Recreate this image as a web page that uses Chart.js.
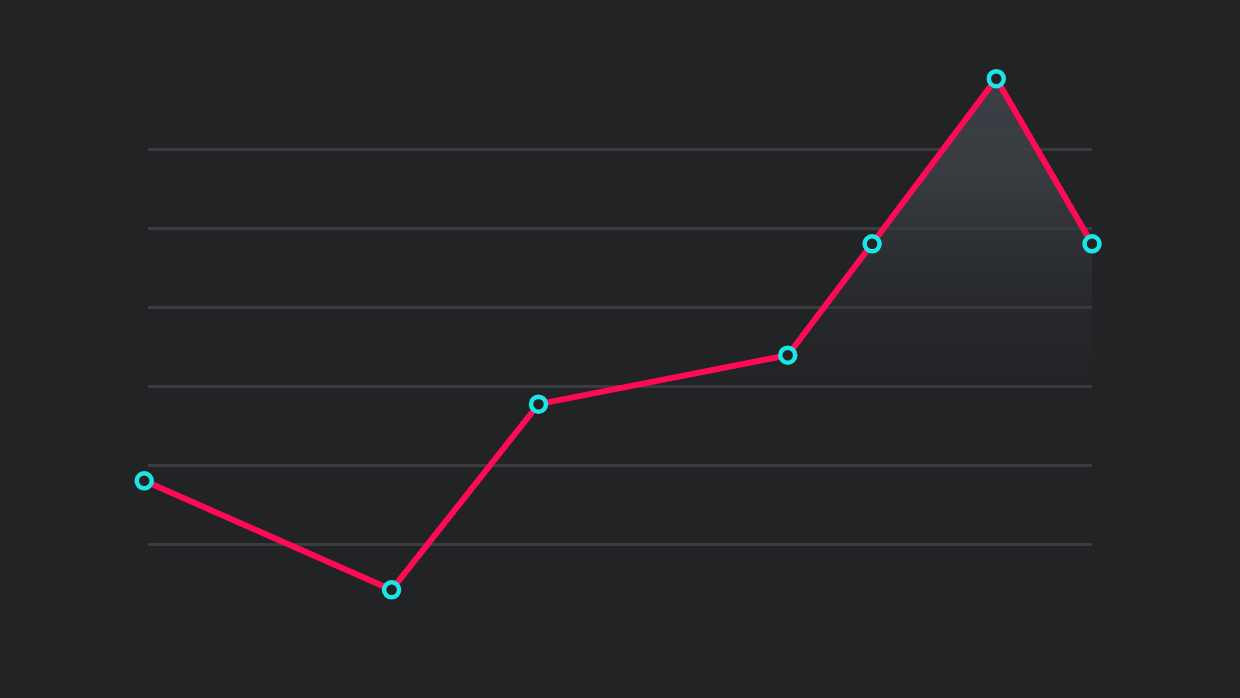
<!DOCTYPE html>
<html>
<head>
<meta charset="utf-8">
<script src="https://cdn.jsdelivr.net/npm/chart.js@4"></script>
<style>
  html, body { margin: 0; padding: 0; background: #222325; }
  #wrap { width: 1240px; height: 698px; }
</style>
</head>
<body>
<div id="wrap"><canvas id="grafico"></canvas></div>
<script>
// x position of each point (0..100 across the grid) and its value
const posX = [0, 26.1, 41.6, 67.9, 76.8, 89.9, 100];
const valores = [18.0, 4.2, 27.7, 33.9, 48.0, 68.9, 48.0];
// horizontal guide lines
const lineasGuia = [10, 20, 30, 40, 50, 60];

const puntos = posX.map((x, i) => ({ x: x, y: valores[i] }));

function rellenoPico(context) {
  const chart = context.chart;
  const { ctx, chartArea, scales } = chart;
  if (!chartArea) return 'rgba(0,0,0,0)';
  const yTop = scales.y.getPixelForValue(Math.max(...valores));
  const yBot = scales.y.getPixelForValue(28);
  const g = ctx.createLinearGradient(0, yTop, 0, yBot);
  g.addColorStop(0, 'rgba(60,63,69,1)');
  g.addColorStop(0.3, 'rgba(58,61,66,0.95)');
  g.addColorStop(0.6, 'rgba(52,55,60,0.5)');
  g.addColorStop(1, 'rgba(40,42,45,0)');
  return g;
}

new Chart(document.getElementById('grafico').getContext('2d'), {
  type: 'line',
  data: {
    datasets: [{
      data: puntos,
      borderColor: '#ff0a54',
      borderWidth: 6,
      tension: 0,
      fill: 'start',
      backgroundColor: rellenoPico,
      pointRadius: 7.5,
      pointHoverRadius: 7.5,
      pointBorderWidth: 4.5,
      pointBorderColor: '#1ae6e8',
      pointBackgroundColor: '#222325',
      clip: false
    }]
  },
  options: {
    responsive: true,
    maintainAspectRatio: false,
    animation: false,
    layout: { padding: { left: 148, right: 148, top: 62.1, bottom: 90.8 } },
    scales: {
      x: {
        type: 'linear',
        display: false,
        min: 0.4,
        max: 100
      },
      y: {
        type: 'linear',
        min: 2,
        max: 71,
        afterBuildTicks: (axis) => { axis.ticks = lineasGuia.map(v => ({ value: v })); },
        afterFit: (axis) => { axis.width = 0; },
        ticks: { display: false },
        border: { display: false },
        grid: { color: '#3b3c40', lineWidth: 3, drawTicks: false }
      }
    },
    plugins: {
      legend: { display: false },
      tooltip: { enabled: false }
    }
  }
});
</script>
</body>
</html>
